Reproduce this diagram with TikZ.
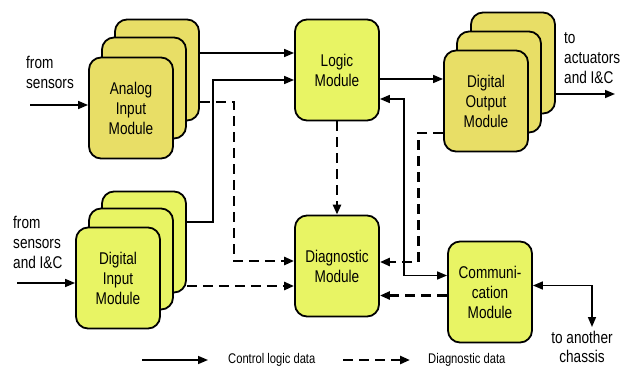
\documentclass[tikz,border=0pt]{standalone}
\usepackage{fontspec}
\setmainfont{Liberation Sans}[FakeStretch=0.8]
\usetikzlibrary{arrows.meta}
\definecolor{anacol}{RGB}{232,222,102}
\definecolor{logcol}{RGB}{232,244,100}

\begin{document}
\begin{tikzpicture}[x=1pt,y=-1pt,
    mnode/.style={draw,line width=1.8pt,rounded corners=12pt,minimum width=84pt,minimum height=101pt,inner sep=2pt,align=center,font=\fontsize{17}{20}\selectfont},
    anode/.style={mnode,fill=anacol}, lnode/.style={mnode,fill=logcol},
    tnode/.style={align=left,inner sep=0pt,font=\fontsize{17}{20}\selectfont},
    ctrl/.style={line width=1.6pt,-{Triangle[length=10pt,width=8pt]}},
    diag/.style={line width=2.8pt,dash pattern=on 10pt off 6pt,-{Triangle[length=10pt,width=8pt]}}]
    \useasboundingbox (0,0) rectangle (621,367);

    % stacked input / output modules
    \node[anode] (analogc) at (157,70) {};
    \node[anode] (analogb) at (144,88) {};
    \node[anode] (analog) at (131,108) {Analog\\Input\\Module};
    \node[lnode] (dinputc) at (144,242) {};
    \node[lnode] (dinputb) at (131,259) {};
    \node[lnode] (dinput) at (118,278) {Digital\\Input\\Module};
    \node[anode] (doutc) at (513,63) {};
    \node[anode] (doutb) at (499,82) {};
    \node[anode] (dout) at (486,101) {Digital\\Output\\Module};

    \node[lnode] (logic) at (337,70) {Logic\\Module};
    \node[lnode] (diagmod) at (337,266) {Diagnostic\\Module};
    \node[lnode] (comm) at (490,292) {Communi-\\cation\\Module};

    % outside texts
    \node[tnode,anchor=west] (sens) at (26,72) {from\\sensors};
    \node[tnode,anchor=west] (sensic) at (13,242) {from\\sensors\\and I\&C};
    \node[tnode,anchor=west] (act) at (564,58) {to\\actuators\\and I\&C};
    \node[tnode,align=center,font=\fontsize{17}{19}\selectfont] (chassis) at (582,347) {to another\\chassis};
    \coordinate (sin) at (30,105);
    \coordinate (sicin) at (17,283);
    \coordinate (actout) at (615,94);
    \coordinate (chout) at (592,327);

    \draw[ctrl] (sin) -- (sin -| analog.west);
    \draw[ctrl] (sicin) -- (sicin -| dinput.west);
    \draw[ctrl] ([yshift=17]analogc.east) -- ([yshift=17]analogc.east -| logic.west);
    \draw[ctrl] ([yshift=20]dinputc.east) -- ++(26,0) |- ([yshift=-10]logic.west);
    \draw[ctrl] ([yshift=-9]logic.east) -- ([yshift=-9]logic.east -| dout.west);
    \draw[ctrl] (doutc.east |- actout) -- (actout);
    \draw[ctrl,{Triangle[length=10pt,width=8pt]}-{Triangle[length=10pt,width=8pt]}] ([yshift=-29]logic.east) -- ++(24,0) |- ([yshift=16.5]comm.west);
    \draw[ctrl,{Triangle[length=10pt,width=8pt]}-{Triangle[length=10pt,width=8pt]}] ([yshift=6.5]comm.east) -| (chout);

    \draw[diag] ([yshift=-32]analogc.east) -- ++(34,0) |- ([yshift=5]diagmod.west);
    \draw[diag] ([yshift=-44]dinputc.east) -- ([yshift=-44]dinputc.east -| diagmod.west);
    \draw[diag] (logic) -- (diagmod);
    \draw[diag] ([yshift=-32]dout.west) -- ++(-25,0) |- ([yshift=4]diagmod.east);
    \draw[diag] ([yshift=-3.5]comm.west) -- ([yshift=-3.5]comm.west -| diagmod.east);

    % legend
    \node[tnode,anchor=west,font=\fontsize{14}{16}\selectfont] (lctrl) at (228,360) {Control logic data};
    \node[tnode,anchor=west,font=\fontsize{14}{16}\selectfont] (ldiag) at (428,360) {Diagnostic data};
    \draw[ctrl] ([xshift=-86]lctrl.west) -- ([xshift=-20]lctrl.west);
    \draw[diag] ([xshift=-85]ldiag.west) -- ([xshift=-18]ldiag.west);
\end{tikzpicture}
\end{document}
